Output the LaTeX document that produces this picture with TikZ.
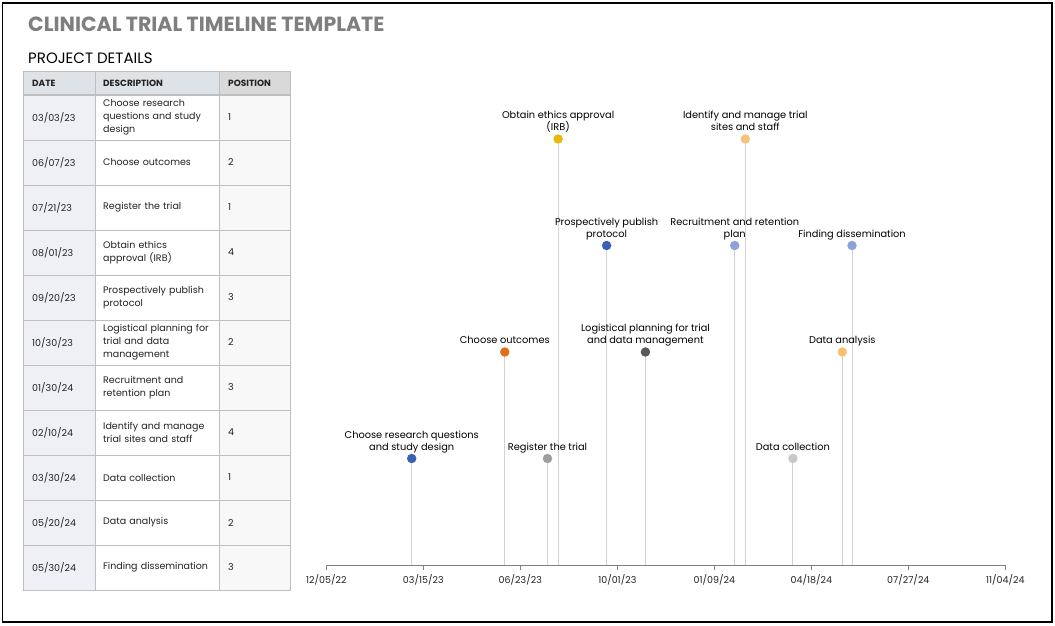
\documentclass[tikz,border=0pt]{standalone}
\usepackage{fontspec}
\setmainfont{Poppins}
\usetikzlibrary{positioning}

\definecolor{titlegray}{HTML}{7F7F7F}
\definecolor{txtdark}{HTML}{222222}
\definecolor{tblline}{HTML}{BFBFBF}
\definecolor{hdrfill}{HTML}{DEE3E8}
\definecolor{poshdr}{HTML}{D9D9D9}
\definecolor{datefill}{HTML}{EEF0F6}
\definecolor{posfill}{HTML}{F8F8F8}
\definecolor{stemgray}{HTML}{D2D2D2}
\definecolor{axisgray}{HTML}{808080}
\definecolor{evblue}{HTML}{3A5FB5}
\definecolor{evorange}{HTML}{E07020}
\definecolor{evgray}{HTML}{9E9E9E}
\definecolor{evgold}{HTML}{E8B90C}
\definecolor{evdark}{HTML}{595959}
\definecolor{evltblue}{HTML}{8DA2D8}
\definecolor{evltorange}{HTML}{F7C27C}
\definecolor{evltgray}{HTML}{C8C8C8}
\definecolor{evltgold}{HTML}{F9C070}

\begin{document}
\begin{tikzpicture}[x=1pt, y=-1pt,
    every node/.style={text=txtdark},
    cell/.style={draw=tblline, anchor=west, minimum height=45pt,
        inner ysep=2pt, align=left, font=\fontsize{9.5}{13}\selectfont},
    datecell/.style={cell, fill=datefill, text width=54pt, inner xsep=9pt},
    desccell/.style={cell, fill=white, text width=108pt, inner xsep=8pt},
    poscell/.style={cell, fill=posfill, text width=53pt, inner xsep=9pt},
    hdr/.style={draw=tblline, fill=hdrfill, anchor=west, minimum height=23pt,
        inner ysep=0pt, align=left, font=\fontsize{9}{10}\selectfont\bfseries},
    dot/.style={circle, inner sep=0pt, minimum size=9.5pt},
    evlabel/.style={align=center, inner sep=0pt, text depth=2pt,
        font=\fontsize{9.8}{12}\selectfont, text=black},
    ticklabel/.style={inner sep=0pt, font=\fontsize{9.5}{11}\selectfont},
    stem/.style={draw=stemgray, line width=0.9pt},
    axisline/.style={draw=axisgray, line width=1pt}
]
\useasboundingbox (0,0) rectangle (1055,626);
\draw[line width=1.5pt] (2.5,3) rectangle (1052,622);

% headings
\node[anchor=base west, inner sep=0pt, text=titlegray,
      font=\fontsize{20.5}{24}\selectfont\bfseries] (title) at (28,32)
      {CLINICAL TRIAL TIMELINE TEMPLATE};
\node[anchor=base west, inner sep=0pt, text=black,
      font=\fontsize{15}{18}\selectfont] (details) at (28,63.5) {PROJECT DETAILS};

% table
\node[hdr, text width=54pt, inner xsep=9pt] (hdate) at (23,83) {DATE};
\node[hdr, text width=108pt, inner xsep=8pt] (hdesc) at (95,83) {DESCRIPTION};
\node[hdr, fill=poshdr, text width=53pt, inner xsep=9pt] (hpos) at (219,83) {POSITION};

\node[datecell] (d1) at (23,117.5) {03/03/23};
\node[desccell] (c1) at (95,117.5) {Choose research\\questions and study\\design};
\node[poscell]  (p1) at (219,117.5) {1};
\node[datecell] (d2) at (23,162.5) {06/07/23};
\node[desccell] (c2) at (95,162.5) {Choose outcomes};
\node[poscell]  (p2) at (219,162.5) {2};
\node[datecell] (d3) at (23,207.5) {07/21/23};
\node[desccell] (c3) at (95,207.5) {Register the trial};
\node[poscell]  (p3) at (219,207.5) {1};
\node[datecell] (d4) at (23,252.5) {08/01/23};
\node[desccell] (c4) at (95,252.5) {Obtain ethics\\approval (IRB)};
\node[poscell]  (p4) at (219,252.5) {4};
\node[datecell] (d5) at (23,297.5) {09/20/23};
\node[desccell] (c5) at (95,297.5) {Prospectively publish\\protocol};
\node[poscell]  (p5) at (219,297.5) {3};
\node[datecell] (d6) at (23,342.5) {10/30/23};
\node[desccell] (c6) at (95,342.5) {Logistical planning for\\trial and data\\management};
\node[poscell]  (p6) at (219,342.5) {2};
\node[datecell] (d7) at (23,387.5) {01/30/24};
\node[desccell] (c7) at (95,387.5) {Recruitment and\\retention plan};
\node[poscell]  (p7) at (219,387.5) {3};
\node[datecell] (d8) at (23,432.5) {02/10/24};
\node[desccell] (c8) at (95,432.5) {Identify and manage\\trial sites and staff};
\node[poscell]  (p8) at (219,432.5) {4};
\node[datecell] (d9) at (23,477.5) {03/30/24};
\node[desccell] (c9) at (95,477.5) {Data collection};
\node[poscell]  (p9) at (219,477.5) {1};
\node[datecell] (d10) at (23,522.5) {05/20/24};
\node[desccell] (c10) at (95,522.5) {Data analysis};
\node[poscell]  (p10) at (219,522.5) {2};
\node[datecell] (d11) at (23,567.5) {05/30/24};
\node[desccell] (c11) at (95,567.5) {Finding dissemination};
\node[poscell]  (p11) at (219,567.5) {3};

% time axis
\coordinate (tk0) at (326.3,565);
\coordinate (tk1) at (423.3,565);
\coordinate (tk2) at (520.3,565);
\coordinate (tk3) at (617.3,565);
\coordinate (tk4) at (714.3,565);
\coordinate (tk5) at (811.3,565);
\coordinate (tk6) at (908.3,565);
\coordinate (tk7) at (1005.3,565);

% events
\node[dot, fill=evblue]     (e1)  at (411.7,458.5) {};
\node[dot, fill=evorange]   (e2)  at (504.8,352)   {};
\node[dot, fill=evgray]     (e3)  at (547.5,458.5) {};
\node[dot, fill=evgold]     (e4)  at (558.1,139)   {};
\node[dot, fill=evblue]     (e5)  at (606.6,245.5) {};
\node[dot, fill=evdark]     (e6)  at (645.4,352)   {};
\node[dot, fill=evltblue]   (e7)  at (734.7,245.5) {};
\node[dot, fill=evltorange] (e8)  at (745.3,139)   {};
\node[dot, fill=evltgray]   (e9)  at (792.9,458.5) {};
\node[dot, fill=evltgold]   (e10) at (842.3,352)   {};
\node[dot, fill=evltblue]   (e11) at (852.0,245.5) {};

\draw[stem] (e1.south) -- (e1.south |- tk0);
\draw[stem] (e2.south) -- (e2.south |- tk0);
\draw[stem] (e3.south) -- (e3.south |- tk0);
\draw[stem] (e4.south) -- (e4.south |- tk0);
\draw[stem] (e5.south) -- (e5.south |- tk0);
\draw[stem] (e6.south) -- (e6.south |- tk0);
\draw[stem] (e7.south) -- (e7.south |- tk0);
\draw[stem] (e8.south) -- (e8.south |- tk0);
\draw[stem] (e9.south) -- (e9.south |- tk0);
\draw[stem] (e10.south) -- (e10.south |- tk0);
\draw[stem] (e11.south) -- (e11.south |- tk0);

\node[evlabel, above=1.3pt of e1]  (l1)  {Choose research questions\\and study design};
\node[evlabel, above=1.3pt of e2]  (l2)  {Choose outcomes};
\node[evlabel, above=1.3pt of e3]  (l3)  {Register the trial};
\node[evlabel, above=1.3pt of e4]  (l4)  {Obtain ethics approval\\(IRB)};
\node[evlabel, above=1.3pt of e5]  (l5)  {Prospectively publish\\protocol};
\node[evlabel, above=1.3pt of e6]  (l6)  {Logistical planning for trial\\and data management};
\node[evlabel, above=1.3pt of e7]  (l7)  {Recruitment and retention\\plan};
\node[evlabel, above=1.3pt of e8]  (l8)  {Identify and manage trial\\sites and staff};
\node[evlabel, above=1.3pt of e9]  (l9)  {Data collection};
\node[evlabel, above=1.3pt of e10] (l10) {Data analysis};
\node[evlabel, above=1.3pt of e11] (l11) {Finding dissemination};

\draw[axisline] (tk0) -- (tk7);
\draw[axisline] (tk0) -- ++(0,5) (tk1) -- ++(0,5) (tk2) -- ++(0,5) (tk3) -- ++(0,5)
    (tk4) -- ++(0,5) (tk5) -- ++(0,5) (tk6) -- ++(0,5) (tk7) -- ++(0,5);

\node[ticklabel, below=9.5pt of tk0] (x0) {12/05/22};
\node[ticklabel, below=9.5pt of tk1] (x1) {03/15/23};
\node[ticklabel, below=9.5pt of tk2] (x2) {06/23/23};
\node[ticklabel, below=9.5pt of tk3] (x3) {10/01/23};
\node[ticklabel, below=9.5pt of tk4] (x4) {01/09/24};
\node[ticklabel, below=9.5pt of tk5] (x5) {04/18/24};
\node[ticklabel, below=9.5pt of tk6] (x6) {07/27/24};
\node[ticklabel, below=9.5pt of tk7] (x7) {11/04/24};

\end{tikzpicture}
\end{document}
